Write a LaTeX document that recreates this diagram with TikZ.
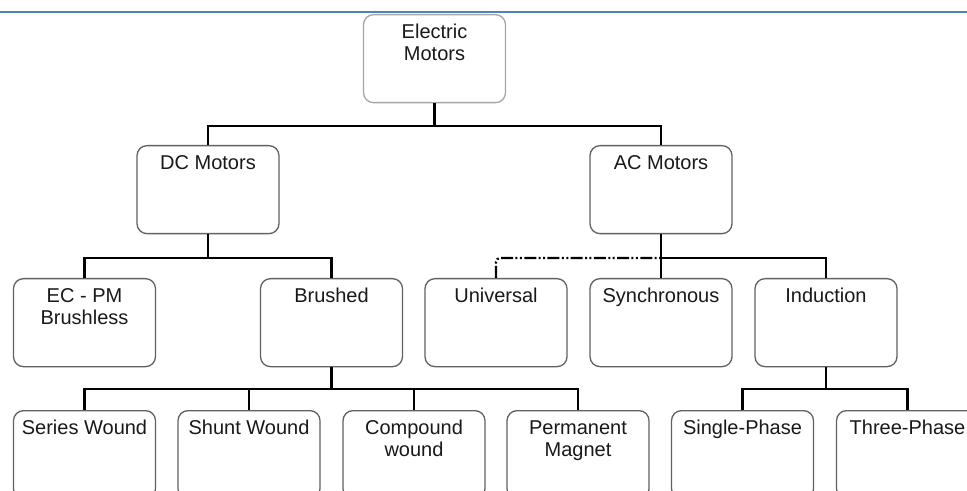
\documentclass[tikz,border=0pt]{standalone}
\usepackage{fontspec}
\setmainfont{Liberation Sans}
\usepackage{tikz}
\usetikzlibrary{
  calc,
  positioning
}
\definecolor{rulebl}{HTML}{4F81BD}
\tikzset{
  motor/.style={draw=black!62, line width=0.65pt, rounded corners=5pt,
    minimum width=71pt, minimum height=44pt, anchor=north, inner sep=0pt,
    label={[mtext]north:#1}},
  mtext/.style={anchor=north, yshift=-5pt, align=center, inner sep=0pt,
    text=black!90, font=\fontsize{10}{11}\selectfont},
  conn/.style={line width=1.35pt, black},
  linkdash/.style={line width=1.1pt, rounded corners=2pt,
    dash pattern=on 6pt off 1.2pt on 1pt off 1.2pt on 1pt off 1.2pt}
}

\begin{document}
\begin{tikzpicture}[x=0.5pt, y=-0.5pt]
				\useasboundingbox (0,0) rectangle (967,491);
				\clip (0,0) rectangle (967,491);
				\fill[white] (0,0) rectangle (967,491);
				\coordinate (L) at (0,12);
				\coordinate (R) at (967,12);
				\draw[rulebl, line width=1.1pt] (L)--(R);
				\node[motor={Electric\\Motors}, draw=black!35] (em) at (434.5,14) {};
				\node[motor={DC Motors}] (dc) at (208,145) {};
				\node[motor={AC Motors}] (ac) at (661,145) {};
				\node[motor={EC - PM\\Brushless}] (ec) at (84.5,278) {};
				\node[motor={Brushed}] (br) at (331.5,278) {};
				\node[motor={Universal}] (un) at (496,278) {};
				\node[motor={Synchronous}] (sy) at (661,278) {};
				\node[motor={Induction}] (in) at (826,278) {};
				\node[motor={Series Wound}] (sw) at (84.5,410) {};
				\node[motor={Shunt Wound}] (sh) at (249,410) {};
				\node[motor={Compound\\wound}] (co) at (414,410) {};
				\node[motor={Permanent\\Magnet}] (pm) at (578,410) {};
				\node[motor={Single-Phase}] (sp) at (742.5,410) {};
				\node[motor={Three-Phase}] (tp) at (907.5,410) {};
				\coordinate (j1) at (434.5,126);
				\coordinate (j2) at (208,258);
				\coordinate (j3) at (661,258);
				\coordinate (j4) at (331.5,389);
				\coordinate (j5) at (826,389);
				\draw[conn] (em.south)--(j1);
				\draw[conn] (dc.north) |- (j1) -| (ac.north);
				\draw[conn] (dc.south)--(j2);
				\draw[conn] (ec.north) |- (j2) -| (br.north);
				\draw[conn] (ac.south)--(sy.north);
				\draw[conn] (j3) -| (in.north);
				\draw[linkdash] (un.north) |- (j3);
				\draw[conn] (br.south)--(j4);
				\draw[conn] (sw.north) |- (j4) -| (pm.north);
				\draw[conn] (sh.north)--(sh.north |- j4);
				\draw[conn] (co.north)--(co.north |- j4);
				\draw[conn] (in.south)--(j5);
				\draw[conn] (sp.north) |- (j5) -| (tp.north);
			\end{tikzpicture}
\end{document}
